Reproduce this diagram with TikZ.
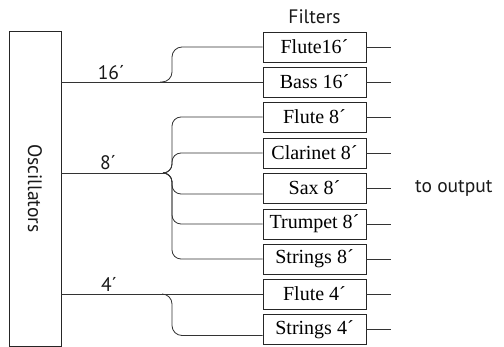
\documentclass[tikz,border=0pt]{standalone}
\usepackage{fontspec}
\setmainfont{Liberation Serif}
\setsansfont{PT Sans}
\usetikzlibrary{positioning}

\tikzset{
  filt/.style={draw=black!85, line width=.7pt, minimum width=103pt, minimum height=30pt,
    inner sep=0pt, text=black, font=\rmfamily\fontsize{20}{22}\selectfont},
  lbl/.style={font=\sffamily\fontsize{19.5}{22}\selectfont, text=black!90, inner sep=0pt},
  wire/.style={draw=black!80, line width=.8pt},
}

\begin{document}
\begin{tikzpicture}[x=1pt, y=-1pt]
        \useasboundingbox (0,0) rectangle (504,347);
        %oscillators
        \node[draw=black!85, line width=.8pt, minimum width=52pt, minimum height=315pt, inner sep=0pt] (osc) at (35,188.5) {};
        \node[lbl, rotate=-90] (osclbl) at (osc.center) {Oscillators};
        %filters
        \node[lbl, anchor=base] (flt) at (314.5,24) {Filters};
        \node[filt] (f16) at (314.5,47) {Flute16´};
        \node[filt] (b16) at (314.5,82) {Bass 16´};
        \node[filt] (f8) at (314.5,117) {Flute 8´};
        \node[filt] (c8) at (314.5,153) {Clarinet 8´};
        \node[filt] (s8) at (314.5,188) {Sax 8´};
        \node[filt] (t8) at (314.5,224) {Trumpet 8´};
        \node[filt] (st8) at (314.5,259) {Strings 8´};
        \node[filt] (f4) at (314.5,294) {Flute 4´};
        \node[filt] (st4) at (314.5,329.5) {Strings 4´};
        %junctions
        \coordinate (j16) at (172,82);
        \coordinate (j8) at (172,173);
        \coordinate (j4) at (172,294);
        %16 foot
        \draw[wire] (osc.east |- j16) -- (b16.west);
        \draw[wire, rounded corners=10pt] ([xshift=-12pt]j16) -- (j16) -- (j16 |- f16.west) -- (f16.west);
        \node[lbl, anchor=base] (l16) at (111,80) {16´};
        %8 foot
        \draw[wire] (osc.east |- j8) -- ([xshift=-9pt]j8);
        \foreach \b/\s in {f8/0, c8/0, s8/-6, t8/0, st8/0}{
          \coordinate (\b-in) at ([yshift=\s pt]\b.west);
          \draw[wire, rounded corners=9pt] ([xshift=-9pt]j8) -- (j8) -- (j8 |- \b-in) -- (\b-in);
        }
        \node[lbl, anchor=base] (l8) at (108,170) {8´};
        %4 foot
        \draw[wire] (osc.east |- j4) -- (f4.west);
        \coordinate (st4-in) at ([yshift=-6pt]st4.west);
        \draw[wire, rounded corners=10pt] ([xshift=-10pt]j4) -- (j4) -- (j4 |- st4-in) -- (st4-in);
        \node[lbl, anchor=base] (l4) at (109,292) {4´};
        %to output
        \foreach \b in {f16, b16, f8, c8, s8, t8, st8, f4, st4}{
          \coordinate (\b-out) at ([xshift=25pt]\b.east);
          \draw[wire] (\b.east) -- (\b-out);
        }
        \node[lbl, anchor=west] (out) at (415,188) {to output};
    \end{tikzpicture}
\end{document}
